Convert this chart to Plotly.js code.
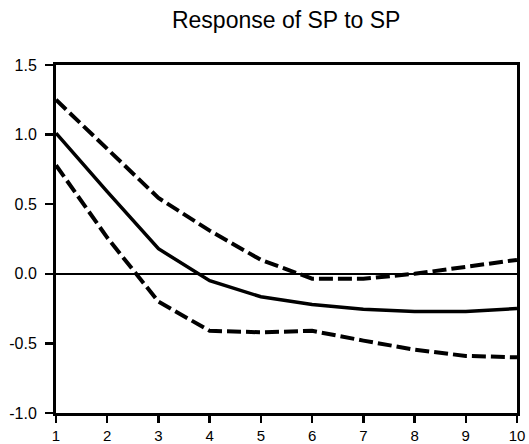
<!DOCTYPE html>
<html>
<head>
<meta charset="utf-8">
<script src="https://cdn.plot.ly/plotly-3.0.1.min.js"></script>
<style>html,body{margin:0;padding:0;background:#fff;}#chart{width:529px;height:444px;}</style>
</head>
<body>
<div id="chart"></div>
<script>
var steps = [1, 2, 3, 4, 5, 6, 7, 8, 9, 10];
var response = [1.01, 0.59, 0.18, -0.05, -0.165, -0.22, -0.255, -0.27, -0.27, -0.25];
var upperBand = [1.25, 0.90, 0.545, 0.31, 0.10, -0.035, -0.035, 0.0, 0.05, 0.10];
var lowerBand = [0.78, 0.26, -0.20, -0.41, -0.42, -0.41, -0.48, -0.545, -0.59, -0.60];
var yTickVals = [-1.0, -0.5, 0.0, 0.5, 1.0, 1.5];
var yTickText = ["-1.0", "-0.5", "0.0", "0.5", "1.0", "1.5"];
var xTickVals = steps;
var xTickText = ["1", "2", "3", "4", "5", "6", "7", "8", "9", "10"];
var titleText = "Response of SP to SP";

var font = "Liberation Sans, Arial, Helvetica, sans-serif";
var traces = [
  {x: steps, y: upperBand, mode: "lines", line: {color: "#000", width: 4, dash: "14px,5px"}, hoverinfo: "none"},
  {x: steps, y: lowerBand, mode: "lines", line: {color: "#000", width: 4, dash: "14px,5px"}, hoverinfo: "none"},
  {x: steps, y: response, mode: "lines", line: {color: "#000", width: 3.5}, hoverinfo: "none"}
];
var layout = {
  width: 529, height: 444,
  margin: {l: 56, r: 12, t: 65, b: 31, pad: 0},
  paper_bgcolor: "#fff", plot_bgcolor: "#fff",
  showlegend: false,
  font: {family: font, size: 16, color: "#000"},
  title: {text: titleText, font: {family: font, size: 23, color: "#000"}, x: 0.541, xanchor: "center", y: 0.955, yanchor: "middle"},
  xaxis: {
    range: [1, 10], tickvals: xTickVals, ticktext: xTickText,
    showgrid: false, zeroline: false, showline: true, linecolor: "#000", linewidth: 3,
    mirror: true, ticks: "outside", ticklen: 7, tickwidth: 2.5, tickcolor: "#000",
    ticklabelstandoff: 0, tickfont: {family: font, size: 15, color: "#000"}
  },
  yaxis: {
    range: [-1.0, 1.5], tickvals: yTickVals, ticktext: yTickText,
    showgrid: false, zeroline: true, zerolinecolor: "#000", zerolinewidth: 1.5,
    showline: true, linecolor: "#000", linewidth: 3,
    mirror: true, ticks: "outside", ticklen: 8, tickwidth: 2.5, tickcolor: "#000",
    ticklabelstandoff: 5, tickfont: {family: font, size: 16, color: "#000"}
  }
};
Plotly.newPlot("chart", traces, layout, {staticPlot: true, displayModeBar: false});
</script>
</body>
</html>
